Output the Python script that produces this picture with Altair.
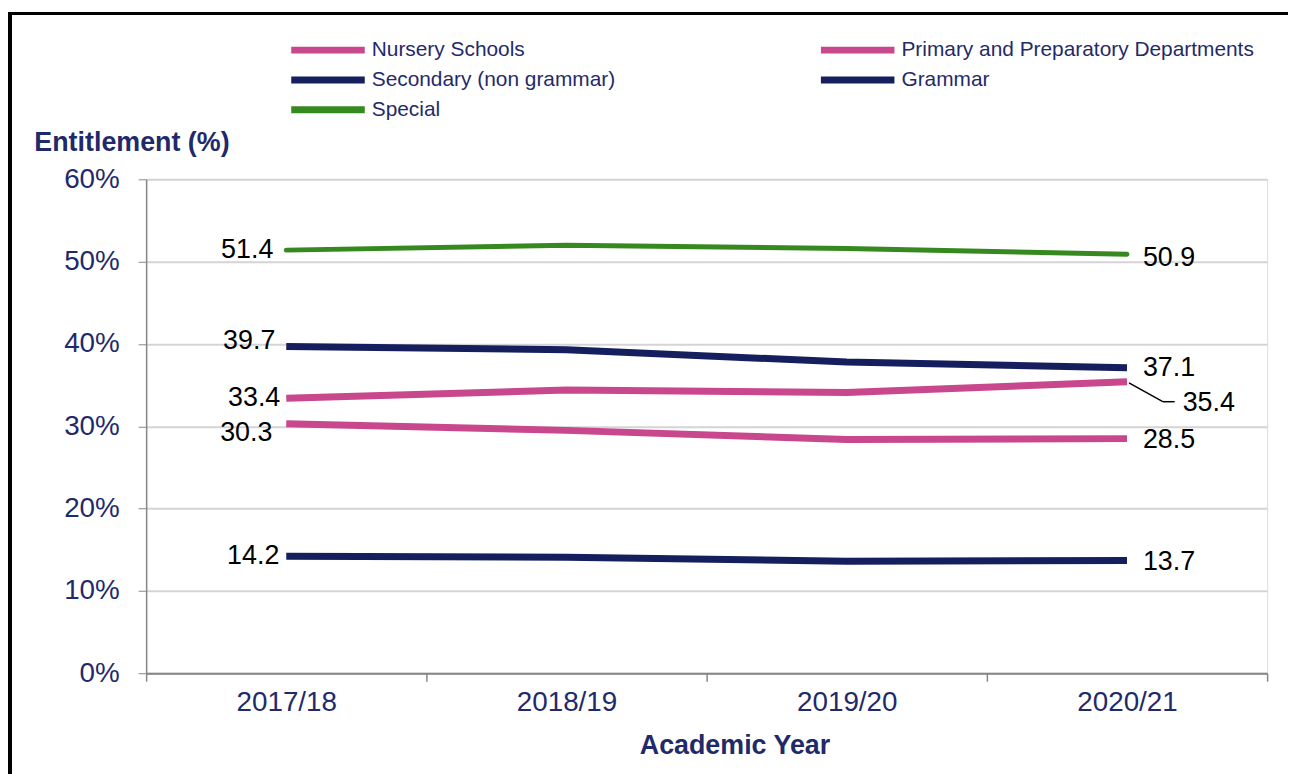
import altair as alt
import pandas as pd

years = ["2017/18", "2018/19", "2019/20", "2020/21"]
series = ["Nursery Schools", "Primary and Preparatory Departments",
          "Secondary (non grammar)", "Grammar", "Special"]
nursery = [30.3, 29.5, 28.4, 28.5]
primary = [33.4, 34.4, 34.1, 35.4]
secondary = [39.7, 39.3, 37.8, 37.1]
grammar = [14.2, 14.1, 13.6, 13.7]
special = [51.4, 52.0, 51.6, 50.9]

values = [nursery, primary, secondary, grammar, special]
rows = []
for s, vals in zip(series, values):
    for y, v in zip(years, vals):
        rows.append({"series": s, "year": y, "value": v})
df = pd.DataFrame(rows)

PINK = "#C8478D"
NAVY = "#151F5E"
GREEN = "#36891F"
TEXTNAVY = "#1F2A6B"
color_of = {"Nursery Schools": PINK, "Primary and Preparatory Departments": PINK,
            "Secondary (non grammar)": NAVY, "Grammar": NAVY, "Special": GREEN}
# legend is filled column by column
legend_order = ["Nursery Schools", "Secondary (non grammar)", "Special",
                "Primary and Preparatory Departments", "Grammar"]
FONT = "Liberation Sans"

xenc = alt.X("year:N", sort=years, bandPosition=0.5,
             scale=alt.Scale(type="band", paddingInner=0, paddingOuter=0),
             axis=alt.Axis(title="Academic Year", labelAngle=0, tickBand="extent",
                           labelFontSize=28, labelColor=TEXTNAVY, labelFont=FONT,
                           labelBaseline="middle", labelPadding=22, tickSize=8,
                           tickColor="#868686", domainColor="#868686", domainWidth=2,
                           tickWidth=1.5,
                           titleFontSize=27, titleFont=FONT, titleFontWeight="bold",
                           titleColor=TEXTNAVY, titleX=592, titleY=73, titleBaseline="middle",
                           titleAnchor="start", titleAlign="center", grid=False))
yenc = alt.Y("value:Q", scale=alt.Scale(domain=[0, 60]),
             axis=alt.Axis(title="Entitlement (%)", values=[0, 10, 20, 30, 40, 50, 60],
                           labelExpr="datum.value + '%'", labelFontSize=28,
                           labelColor=TEXTNAVY, labelFont=FONT,
                           labelPadding=19, tickSize=8, tickColor="#868686",
                           domainColor="#868686", domainWidth=1.5,
                           gridColor="#D4D4D4", gridWidth=2,
                           titleAngle=0, titleFontSize=27, titleFont=FONT,
                           titleFontWeight="bold", titleColor=TEXTNAVY,
                           titleX=-113, titleY=-37, titleAlign="left",
                           titleBaseline="middle", titleAnchor="start"))

color = alt.Color("series:N",
                  scale=alt.Scale(domain=legend_order,
                                  range=[color_of[s] for s in legend_order]),
                  legend=alt.Legend(title=None, orient="none", legendX=172, legendY=-141,
                                    columns=2, columnPadding=192, rowPadding=2,
                                    symbolType="M-5,0H5", symbolSize=219,
                                    symbolStrokeWidth=7, symbolFillColor="transparent",
                                    labelFontSize=21, labelFont=FONT, labelColor=TEXTNAVY,
                                    labelOffset=33, labelLimit=500))

base = alt.Chart(df)

lines_thick = base.transform_filter(alt.datum.series != "Special").mark_line(
    strokeWidth=7).encode(x=xenc, y=yenc, color=color, detail="series:N")
line_special = base.transform_filter(alt.datum.series == "Special").mark_line(
    strokeWidth=5, strokeCap="round").encode(x=xenc, y=yenc, color=color)

# label styling: (series, year, align, dx, dy)
label_style = [
    ("Special", years[0], "right", -13, 0),
    ("Secondary (non grammar)", years[0], "right", -11, -5),
    ("Primary and Preparatory Departments", years[0], "right", -6, 0),
    ("Nursery Schools", years[0], "right", -14, 9),
    ("Grammar", years[0], "right", -7, 0),
    ("Special", years[-1], "left", 16, 4),
    ("Secondary (non grammar)", years[-1], "left", 16, 0),
    ("Primary and Preparatory Departments", years[-1], "left", 56, 21),
    ("Nursery Schools", years[-1], "left", 16, 1),
    ("Grammar", years[-1], "left", 16, 2),
]
label_layers = []
for s, yr, al, dx, dy in label_style:
    label_layers.append(
        base.transform_filter((alt.datum.series == s) & (alt.datum.year == yr))
        .mark_text(align=al, baseline="middle", dx=dx, dy=dy, fontSize=27,
                   font=FONT, color="black")
        .encode(x=alt.X("year:N", sort=years, bandPosition=0.5), y="value:Q",
                text=alt.Text("value:Q", format=".1f"))
    )

leader_src = base.transform_filter(
    (alt.datum.series == "Primary and Preparatory Departments") & (alt.datum.year == years[-1]))
leader1 = leader_src.mark_rule(color="black", strokeWidth=1.5, xOffset=2, x2Offset=36,
                               yOffset=1, y2Offset=20).encode(
    x=alt.X("year:N", sort=years, bandPosition=0.5), x2="year:N", y="value:Q", y2="value:Q")
leader2 = leader_src.mark_rule(color="black", strokeWidth=1.5, xOffset=36, x2Offset=48,
                               yOffset=20, y2Offset=20).encode(
    x=alt.X("year:N", sort=years, bandPosition=0.5), x2="year:N", y="value:Q", y2="value:Q")

frame = base.mark_rect(fill=None, stroke="black", strokeWidth=2.5, clip=False).encode(
    x=alt.value(-137), y=alt.value(-167), x2=alt.value(1300), y2=alt.value(800))

chart = alt.layer(frame, lines_thick, line_special, leader1, leader2, *label_layers).properties(
    width=1128, height=497,
    autosize=alt.AutoSizeParams(type="none"),
    padding={"left": 139, "top": 170, "right": 21, "bottom": 99},
).configure_view(stroke=None).configure(background="white")

chart.save("out.html", embed_options={"renderer": "svg", "actions": False})
